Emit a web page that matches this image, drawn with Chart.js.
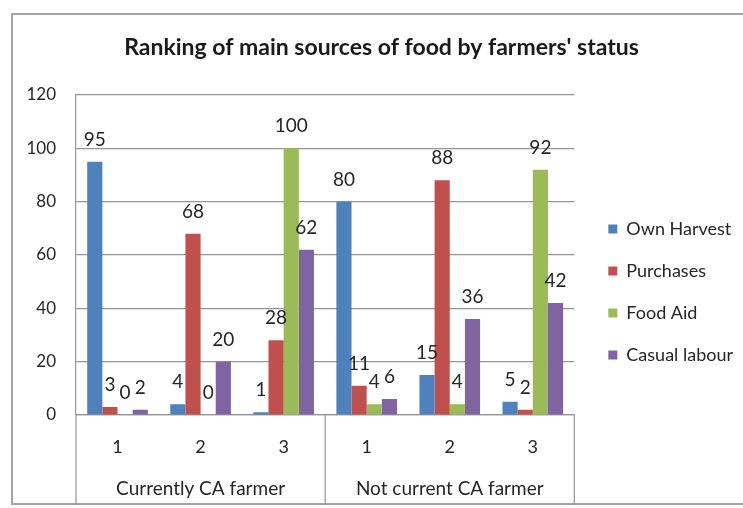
<!DOCTYPE html>
<html>
<head>
<meta charset="utf-8">
<script src="https://cdn.jsdelivr.net/npm/chart.js@4/dist/chart.umd.min.js"></script>
<style>
  body { margin: 0; background: #fff; overflow: hidden; }
  #frame { position: absolute; left: 11px; top: 13px; width: 800px; height: 492px; border: 2px solid #a3a3a3; box-sizing: border-box; }
  #myChart { position: absolute; left: 0; top: 0; }
</style>
</head>
<body>
<div id="frame"></div>
<canvas id="myChart" width="743" height="508"></canvas>
<script>
const rankLabels = ['1', '2', '3', '1', '2', '3'];
const groupLabels = ['Currently CA farmer', 'Not current CA farmer'];
const ownHarvest = [95, 4, 1, 80, 15, 5];
const purchases = [3, 68, 28, 11, 88, 2];
const foodAid = [0, 0, 100, 4, 4, 92];
const casualLabour = [2, 20, 62, 6, 36, 42];
const yTicks = [0, 20, 40, 60, 80, 100, 120];

const font = 'Lato, "Open Sans", sans-serif';
const gridGray = '#969696';

// value labels above each bar
const valueLabels = {
  id: 'valueLabels',
  afterDatasetsDraw(chart) {
    const ctx = chart.ctx;
    ctx.save();
    ctx.font = '19px ' + font;
    ctx.fillStyle = '#262626';
    ctx.textAlign = 'center';
    ctx.textBaseline = 'middle';
    chart.data.datasets.forEach((ds, i) => {
      chart.getDatasetMeta(i).data.forEach((bar, j) => {
        ctx.fillText(ds.data[j], bar.x, bar.y - 22);
      });
    });
    ctx.restore();
  }
};

// group separators under the category axis
const groupLines = {
  id: 'groupLines',
  afterDraw(chart) {
    const x = chart.scales.x;
    const ctx = chart.ctx;
    const bottom = chart.chartArea.bottom;
    ctx.save();
    ctx.strokeStyle = gridGray;
    ctx.lineWidth = 1.2;
    [x.left, (x.left + x.right) / 2, x.right].forEach(px => {
      ctx.beginPath();
      ctx.moveTo(px, bottom);
      ctx.lineTo(px, 505);
      ctx.stroke();
    });
    ctx.restore();
  }
};

const data = {
  labels: rankLabels,
  datasets: [
    { label: 'Own Harvest', data: ownHarvest, backgroundColor: '#4F81BD' },
    { label: 'Purchases', data: purchases, backgroundColor: '#C0504D' },
    { label: 'Food Aid', data: foodAid, backgroundColor: '#9BBB59' },
    { label: 'Casual labour', data: casualLabour, backgroundColor: '#8064A2' }
  ]
};

const config = {
  type: 'bar',
  data: data,
  options: {
    responsive: false,
    animation: false,
    categoryPercentage: 0.73,
    barPercentage: 1.0,
    layout: { padding: { top: 34, left: 20, right: 0, bottom: 9 } },
    plugins: {
      title: {
        display: true,
        text: "Ranking of main sources of food by farmers' status",
        color: '#1a1a1a',
        font: { family: font, size: 23, weight: 'bold' },
        padding: { top: 0, bottom: 33.4 }
      },
      legend: {
        position: 'right',
        maxWidth: 161,
        title: { display: true, text: '', font: { size: 12, lineHeight: 1 }, padding: { top: 39, bottom: 0 } },
        labels: {
          boxWidth: 9,
          boxHeight: 9,
          padding: 24,
          color: '#262626',
          font: { family: font, size: 18 }
        }
      },
      tooltip: { enabled: false }
    },
    scales: {
      x: {
        afterFit(s) { s.height = 42; },
        grid: { display: false, drawTicks: false },
        border: { display: true, color: gridGray, width: 1.2 },
        ticks: { color: '#262626', padding: 21, font: { family: font, size: 18 } }
      },
      x2: {
        type: 'category',
        labels: groupLabels,
        offset: true,
        position: 'bottom',
        afterFit(s) { s.height = 42; },
        grid: { display: false, drawTicks: false },
        border: { display: false },
        ticks: { color: '#262626', padding: 20.6, font: { family: font, size: 19 } }
      },
      y: {
        min: 0,
        max: 120,
        afterBuildTicks(s) { s.ticks = yTicks.map(v => ({ value: v })); },
        afterFit(s) { s.width = 56; },
        grid: { color: gridGray, lineWidth: 1.2, drawTicks: false },
        border: { display: true, color: gridGray, width: 1.2 },
        ticks: { color: '#262626', padding: 20, font: { family: font, size: 17 } }
      },
      yr: {
        position: 'right',
        afterFit(s) { s.width = 10; },
        grid: { display: false, drawTicks: false },
        border: { display: false },
        ticks: { display: false }
      }
    }
  },
  plugins: [valueLabels, groupLines]
};

const myChart = new Chart(document.getElementById('myChart'), config);
</script>
</body>
</html>
